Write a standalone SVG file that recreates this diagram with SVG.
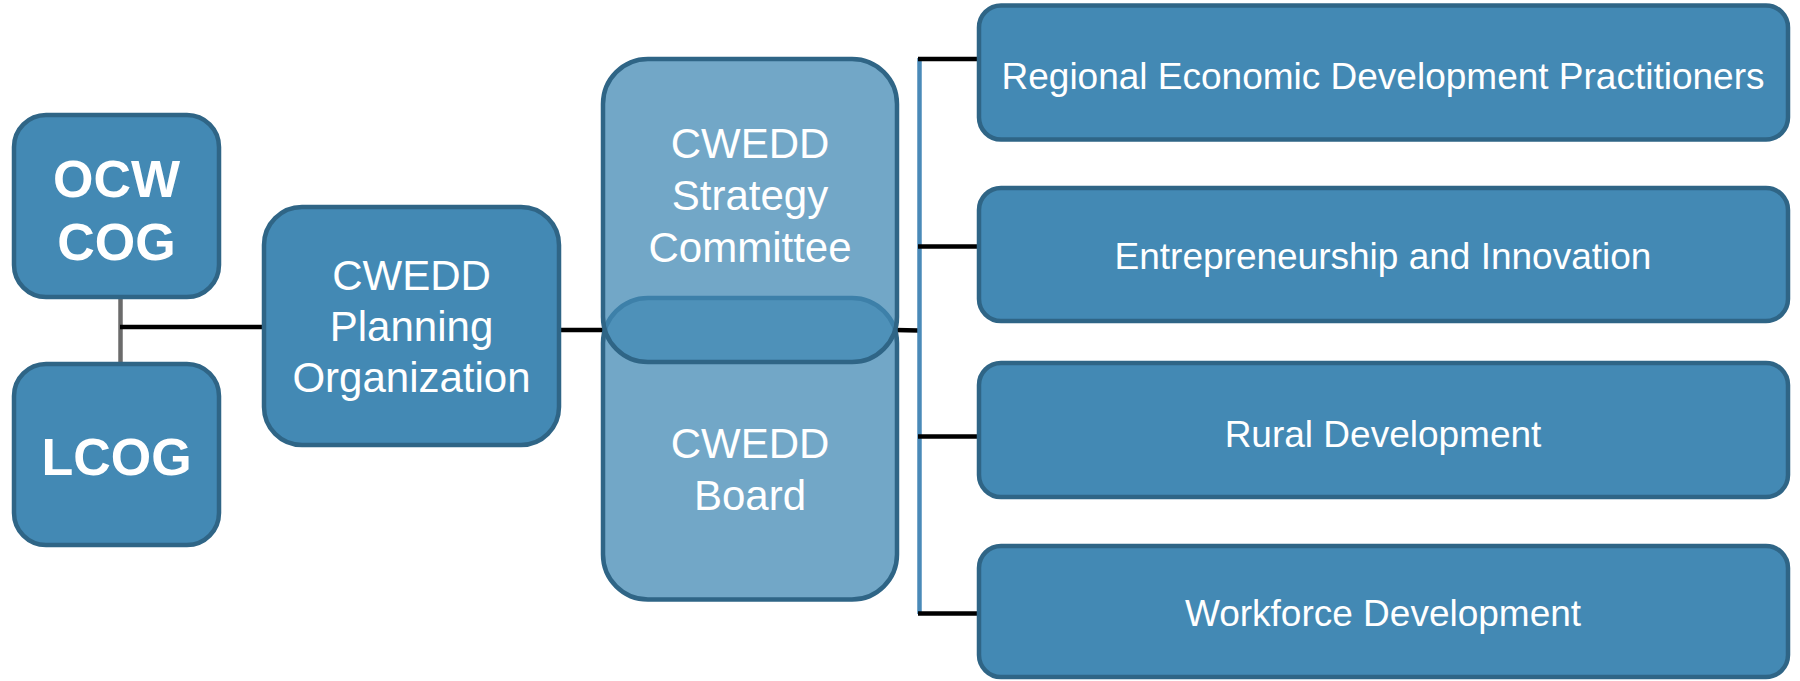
<svg xmlns="http://www.w3.org/2000/svg" width="1800" height="681" viewBox="0 0 1800 681">
  <style>
    .box { fill: #4389b4; stroke: #2f6586; stroke-width: 4.5; }
    .tbox { fill: #4389b4; fill-opacity: 0.75; stroke: #2f6586; stroke-width: 4.5; }
    .t { font-family: "Liberation Sans", Arial, sans-serif; fill: #ffffff; text-anchor: middle; }
    .big { font-size: 52px; font-weight: bold; }
    .mid { font-size: 42px; }
    .small { font-size: 37px; }
    .blk { stroke: #000000; stroke-width: 4.5; fill: none; }
  </style>
  <rect width="1800" height="681" fill="#ffffff"/>

  <g id="connectors">
    <line x1="120.5" y1="297" x2="120.5" y2="364" stroke="#6b6b6b" stroke-width="4.5"/>
    <line class="blk" x1="120" y1="327" x2="264" y2="327"/>
    <line class="blk" x1="559" y1="330" x2="603" y2="330"/>
    <line class="blk" x1="895" y1="330" x2="919" y2="330.5"/>
    <line x1="919.5" y1="58" x2="919.5" y2="614" stroke="#4a8ab8" stroke-width="4.5"/>
    <line class="blk" x1="918" y1="59" x2="979" y2="59"/>
    <line class="blk" x1="918" y1="246.5" x2="979" y2="246.5"/>
    <line class="blk" x1="918" y1="436.5" x2="979" y2="436.5"/>
    <line class="blk" x1="918" y1="613.5" x2="979" y2="613.5"/>
  </g>

  <g id="ocw-cog">
    <rect class="box" x="14" y="115" width="205" height="182" rx="32"/>
    <text class="t big" x="116.5" y="197">OCW</text>
    <text class="t big" x="116.5" y="260">COG</text>
  </g>

  <g id="lcog">
    <rect class="box" x="14" y="364" width="205" height="181" rx="32"/>
    <text class="t big" x="116.5" y="475">LCOG</text>
  </g>

  <g id="planning">
    <rect class="box" x="264" y="207" width="295" height="238" rx="38"/>
    <text class="t mid" x="411.5" y="290">CWEDD</text>
    <text class="t mid" x="411.5" y="341">Planning</text>
    <text class="t mid" x="411.5" y="392">Organization</text>
  </g>

  <g id="board">
    <rect class="tbox" x="603" y="298" width="294" height="301.5" rx="45"/>
    <text class="t mid" x="750" y="458">CWEDD</text>
    <text class="t mid" x="750" y="510">Board</text>
  </g>

  <g id="strategy">
    <rect class="tbox" x="603" y="59" width="294" height="303" rx="45"/>
    <text class="t mid" x="750" y="158">CWEDD</text>
    <text class="t mid" x="750" y="210">Strategy</text>
    <text class="t mid" x="750" y="261.5">Committee</text>
  </g>

  <g id="regional">
    <rect class="box" x="979" y="5.5" width="809" height="134" rx="22"/>
    <text class="t small" x="1383" y="89">Regional Economic Development Practitioners</text>
  </g>

  <g id="entrepreneurship">
    <rect class="box" x="979" y="188" width="809" height="133" rx="22"/>
    <text class="t small" x="1383" y="269">Entrepreneurship and Innovation</text>
  </g>

  <g id="rural">
    <rect class="box" x="979" y="363" width="809" height="134" rx="22"/>
    <text class="t small" x="1383" y="447">Rural Development</text>
  </g>

  <g id="workforce">
    <rect class="box" x="979" y="546" width="809" height="131" rx="22"/>
    <text class="t small" x="1383" y="626">Workforce Development</text>
  </g>
</svg>
